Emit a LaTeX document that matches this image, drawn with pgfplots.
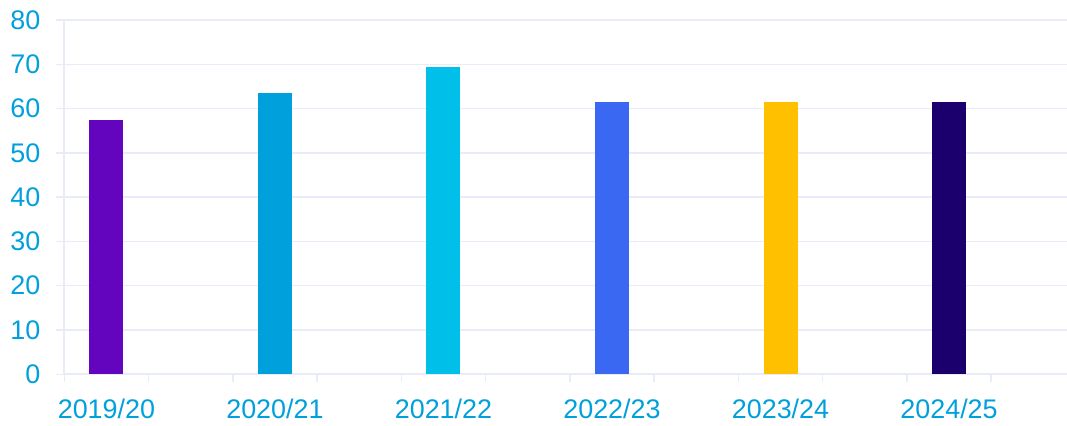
\documentclass[border=0pt]{standalone}
\usepackage{pgfplots}
\pgfplotsset{compat=1.18}
\usepackage{fontspec}
\setmainfont{Liberation Sans}
\definecolor{c1}{HTML}{6305BE}
\definecolor{c2}{HTML}{00A0DC}
\definecolor{c3}{HTML}{00BFE8}
\definecolor{c4}{HTML}{3A68F3}
\definecolor{c5}{HTML}{FFC000}
\definecolor{c6}{HTML}{1B006D}
\definecolor{lab}{HTML}{00A0DC}
\definecolor{gridc}{HTML}{E8ECF8}
\begin{document}
\begin{tikzpicture}
\useasboundingbox (0,0) rectangle (533.5bp,213bp);
\begin{axis}[
  at={(32.15bp,25.85bp)}, anchor=south west,
  width=501.35bp, height=177.15bp, scale only axis,
  xmin=0, xmax=11.9, ymin=0, ymax=80,
  ytick={0,10,...,80},
  xtick={0.5,2.5,4.5,6.5,8.5,10.5},
  xticklabels={2019/20,2020/21,2021/22,2022/23,2023/24,2024/25},
  minor xtick={0,1,...,11},
  axis lines=left,
  axis line style={-, draw=gridc, line width=1bp},
  ymajorgrids=true,
  major grid style={draw=gridc, line width=0.75bp},
  tick align=outside,
  xtick style={draw=none},
  minor tick length=4bp,
  minor x tick style={draw=gridc, line width=0.75bp},
  y tick style={draw=gridc, line width=0.75bp},
  major tick length=4bp,
  tick label style={font=\fontsize{13.5}{16}\selectfont, text=lab},
  /pgf/number format/assume math mode=true,
  yticklabel style={xshift=-4.5bp},
  xticklabel style={yshift=-5bp},
  ybar, bar width=17bp,
]
\addplot[fill=c1, draw=none, bar shift=0pt] coordinates {(0.5,57.5)};
\addplot[fill=c2, draw=none, bar shift=0pt] coordinates {(2.5,63.6)};
\addplot[fill=c3, draw=none, bar shift=0pt] coordinates {(4.5,69.4)};
\addplot[fill=c4, draw=none, bar shift=0pt] coordinates {(6.5,61.5)};
\addplot[fill=c5, draw=none, bar shift=0pt] coordinates {(8.5,61.5)};
\addplot[fill=c6, draw=none, bar shift=0pt] coordinates {(10.5,61.5)};
\end{axis}
\end{tikzpicture}
\end{document}
